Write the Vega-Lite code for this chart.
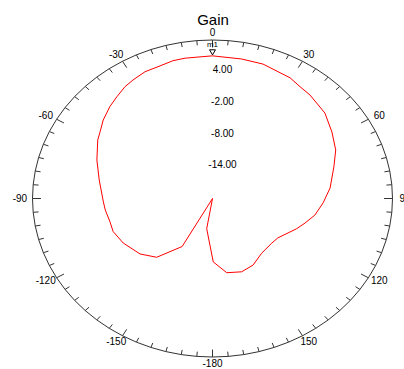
{
  "$schema": "https://vega.github.io/schema/vega-lite/v6.json",
  "width": 404,
  "height": 345,
  "autosize": "none",
  "padding": {"left": 0, "right": 0, "top": 24, "bottom": 0},
  "background": "white",
  "config": {"view": {"stroke": null}, "font": "Liberation Sans"},
  "title": {"text": "Gain", "fontSize": 15, "fontWeight": "normal", "font": "Liberation Sans", "color": "#000", "offset": -16, "anchor": "middle", "baseline": "alphabetic", "frame": "group", "dx": 11},
  "datasets": {
    "ring": [
      {"angle": 0}, {"angle": 5}, {"angle": 10}, {"angle": 15}, {"angle": 20}, {"angle": 25},
      {"angle": 30}, {"angle": 35}, {"angle": 40}, {"angle": 45}, {"angle": 50}, {"angle": 55},
      {"angle": 60}, {"angle": 65}, {"angle": 70}, {"angle": 75}, {"angle": 80}, {"angle": 85},
      {"angle": 90}, {"angle": 95}, {"angle": 100}, {"angle": 105}, {"angle": 110}, {"angle": 115},
      {"angle": 120}, {"angle": 125}, {"angle": 130}, {"angle": 135}, {"angle": 140}, {"angle": 145},
      {"angle": 150}, {"angle": 155}, {"angle": 160}, {"angle": 165}, {"angle": 170}, {"angle": 175},
      {"angle": 180}, {"angle": 185}, {"angle": 190}, {"angle": 195}, {"angle": 200}, {"angle": 205},
      {"angle": 210}, {"angle": 215}, {"angle": 220}, {"angle": 225}, {"angle": 230}, {"angle": 235},
      {"angle": 240}, {"angle": 245}, {"angle": 250}, {"angle": 255}, {"angle": 260}, {"angle": 265},
      {"angle": 270}, {"angle": 275}, {"angle": 280}, {"angle": 285}, {"angle": 290}, {"angle": 295},
      {"angle": 300}, {"angle": 305}, {"angle": 310}, {"angle": 315}, {"angle": 320}, {"angle": 325},
      {"angle": 330}, {"angle": 335}, {"angle": 340}, {"angle": 345}, {"angle": 350}, {"angle": 355}
    ],
    "angleLabels": [
      {"angle": 0, "label": "0"}, {"angle": 30, "label": "30"}, {"angle": 60, "label": "60"},
      {"angle": 90, "label": "90"}, {"angle": 120, "label": "120"}, {"angle": 150, "label": "150"},
      {"angle": 180, "label": "-180"}, {"angle": -150, "label": "-150"}, {"angle": -120, "label": "-120"},
      {"angle": -90, "label": "-90"}, {"angle": -60, "label": "-60"}, {"angle": -30, "label": "-30"}
    ],
    "radialLabels": [
      {"gain": 4, "label": "4.00"}, {"gain": -2, "label": "-2.00"},
      {"gain": -8, "label": "-8.00"}, {"gain": -14, "label": "-14.00"}
    ],
    "gain": [
      {"angle": -170.4, "gain": -14.2},
      {"angle": -165, "gain": -20},
      {"angle": -150.9, "gain": -9.6},
      {"angle": -140.1, "gain": -5.5},
      {"angle": -131, "gain": -4.0},
      {"angle": -119.5, "gain": -2.9},
      {"angle": -110.7, "gain": -2.3},
      {"angle": -104.4, "gain": -2.35},
      {"angle": -97, "gain": -2.0},
      {"angle": -92, "gain": -1.8},
      {"angle": -79.5, "gain": -0.8},
      {"angle": -69.3, "gain": 0.6},
      {"angle": -59.9, "gain": 2.1},
      {"angle": -56, "gain": 2.6},
      {"angle": -50.8, "gain": 3.5},
      {"angle": -44.5, "gain": 4.4},
      {"angle": -39.6, "gain": 5.0},
      {"angle": -34.6, "gain": 5.7},
      {"angle": -30.6, "gain": 6.05},
      {"angle": -25.1, "gain": 6.5},
      {"angle": -20, "gain": 6.55},
      {"angle": -14.2, "gain": 6.9},
      {"angle": -9.8, "gain": 6.95},
      {"angle": -3.4, "gain": 6.9},
      {"angle": 0, "gain": 7.0},
      {"angle": 10.4, "gain": 6.85},
      {"angle": 18.3, "gain": 6.8},
      {"angle": 29.5, "gain": 6.25},
      {"angle": 34.6, "gain": 5.7},
      {"angle": 39.7, "gain": 5.45},
      {"angle": 49.2, "gain": 4.75},
      {"angle": 57.7, "gain": 3.55},
      {"angle": 65.9, "gain": 2.5},
      {"angle": 73.5, "gain": 1.1},
      {"angle": 84.2, "gain": -0.3},
      {"angle": 92.6, "gain": -1.55},
      {"angle": 100.4, "gain": -2.65},
      {"angle": 106.8, "gain": -3.9},
      {"angle": 112.4, "gain": -4.9},
      {"angle": 124.4, "gain": -6.8},
      {"angle": 130.5, "gain": -7.0},
      {"angle": 141.6, "gain": -6.8},
      {"angle": 151.8, "gain": -5.7},
      {"angle": 160.7, "gain": -5.3},
      {"angle": 170.4, "gain": -5.75},
      {"angle": 179.4, "gain": -8.0}
    ],
    "marker": [{"angle": 0, "gain": 7.0, "name": "m1"}]
  },
  "layer": [
    {
      "data": {"name": "ring"},
      "transform": [
        {"calculate": "sin(datum.angle*PI/180)", "as": "px"},
        {"calculate": "cos(datum.angle*PI/180)", "as": "py"}
      ],
      "mark": {"type": "line", "interpolate": "linear-closed", "color": "#333333", "strokeWidth": 1},
      "encoding": {
        "x": {"field": "px", "type": "quantitative", "scale": {"domain": [-1.18056, 1.06389], "nice": false, "zero": false}, "axis": null},
        "y": {"field": "py", "type": "quantitative", "scale": {"domain": [-1.0757, 1.10095], "nice": false, "zero": false}, "axis": null},
        "order": {"field": "angle", "type": "quantitative"}
      }
    },
    {
      "data": {"name": "ring"},
      "transform": [
        {"calculate": "datum.angle % 30 == 0 ? 0.047 : 0.03", "as": "k"},
        {"calculate": "sin(datum.angle*PI/180)", "as": "px"},
        {"calculate": "cos(datum.angle*PI/180)", "as": "py"},
        {"calculate": "(1-datum.k)*datum.px", "as": "px2"},
        {"calculate": "(1-datum.k)*datum.py", "as": "py2"}
      ],
      "mark": {"type": "rule", "color": "#333333", "strokeWidth": 1},
      "encoding": {
        "x": {"field": "px", "type": "quantitative", "axis": null},
        "y": {"field": "py", "type": "quantitative", "axis": null},
        "x2": {"field": "px2"},
        "y2": {"field": "py2"}
      }
    },
    {
      "data": {"name": "gain"},
      "transform": [
        {"calculate": "max(0, (datum.gain+20)/30)", "as": "f"},
        {"calculate": "datum.f*sin(datum.angle*PI/180)", "as": "px"},
        {"calculate": "datum.f*cos(datum.angle*PI/180)", "as": "py"}
      ],
      "mark": {"type": "line", "interpolate": "linear-closed", "color": "#ff0000", "strokeWidth": 1},
      "encoding": {
        "x": {"field": "px", "type": "quantitative", "axis": null},
        "y": {"field": "py", "type": "quantitative", "axis": null},
        "order": {"field": "angle", "type": "quantitative"}
      }
    },
    {
      "data": {"name": "angleLabels"},
      "transform": [
        {"calculate": "1.07*sin(datum.angle*PI/180)", "as": "px"},
        {"calculate": "1.045*cos(datum.angle*PI/180)", "as": "py"}
      ],
      "mark": {"type": "text", "fontSize": 10, "color": "#000000", "align": "center", "baseline": "middle"},
      "encoding": {
        "x": {"field": "px", "type": "quantitative", "axis": null},
        "y": {"field": "py", "type": "quantitative", "axis": null},
        "text": {"field": "label"}
      }
    },
    {
      "data": {"name": "radialLabels"},
      "transform": [
        {"calculate": "0", "as": "px"},
        {"calculate": "(datum.gain+20)/30", "as": "py"}
      ],
      "mark": {"type": "text", "fontSize": 10, "color": "#000000", "align": "center", "baseline": "middle", "dx": 10, "dy": -1.5},
      "encoding": {
        "x": {"field": "px", "type": "quantitative", "axis": null},
        "y": {"field": "py", "type": "quantitative", "axis": null},
        "text": {"field": "label"}
      }
    },
    {
      "data": {"name": "marker"},
      "transform": [
        {"calculate": "(datum.gain+20)/30*sin(datum.angle*PI/180)", "as": "px"},
        {"calculate": "(datum.gain+20)/30*cos(datum.angle*PI/180)", "as": "py"}
      ],
      "mark": {"type": "point", "shape": "triangle-down", "filled": false, "stroke": "#000000", "strokeWidth": 1, "size": 35, "opacity": 1, "yOffset": -3.5},
      "encoding": {
        "x": {"field": "px", "type": "quantitative", "axis": null},
        "y": {"field": "py", "type": "quantitative", "axis": null}
      }
    },
    {
      "data": {"name": "marker"},
      "transform": [
        {"calculate": "(datum.gain+20)/30*sin(datum.angle*PI/180)", "as": "px"},
        {"calculate": "(datum.gain+20)/30*cos(datum.angle*PI/180)", "as": "py"}
      ],
      "mark": {"type": "text", "fontSize": 8, "color": "#000000", "align": "center", "baseline": "middle", "dy": -11},
      "encoding": {
        "x": {"field": "px", "type": "quantitative", "axis": null},
        "y": {"field": "py", "type": "quantitative", "axis": null},
        "text": {"field": "name"}
      }
    }
  ]
}
